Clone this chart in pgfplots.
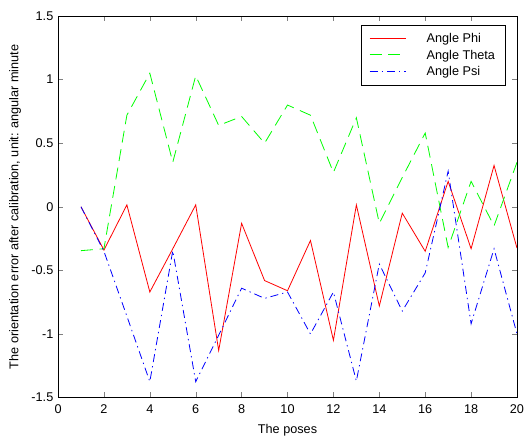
\documentclass[border=0pt]{standalone}
\usepackage{pgfplots}
\pgfplotsset{compat=1.18}
\usepackage{fontspec}
\setmainfont{Liberation Sans}
\begin{document}
\begin{tikzpicture}
\begin{axis}[
  scale only axis,
  width=344pt, height=286pt,
  xmin=0, xmax=20, ymin=-1.5, ymax=1.5,
  xtick={0,2,...,20},
  ytick={-1.5,-1,-0.5,0,0.5,1,1.5},
  yticklabels={-1.5,-1,-0.5,0,0.5,1,1.5},
  tick align=inside,
  major tick length=4pt,
  xtick pos=both, ytick pos=both,
  font=\fontsize{9.5}{11}\selectfont,
  tick label style={font=\fontsize{9.5}{11}\selectfont},
  xticklabel style={yshift=-2pt},
  /pgf/number format/assume math mode=true,
  xlabel={The poses},
  ylabel={The orientation error after calibration, unit: angular minute},
  xlabel style={yshift=-1pt},
  ylabel style={yshift=1pt},
  legend style={at={(0.976,0.976)}, anchor=north east,
    cells={anchor=west}, inner xsep=6pt, inner ysep=4pt, row sep=0pt,
    font=\fontsize{9.5}{11}\selectfont},
  legend image code/.code={\draw[#1] (0cm,0.02cm) -- (0.95cm,0.02cm);},
]
\addlegendimage{red, solid, line width=0.8pt}
\addlegendentry{\hspace{1.4em}Angle Phi}
\addlegendimage{green, dash pattern=on 9pt off 5pt, line width=0.8pt}
\addlegendentry{\hspace{1.4em}Angle Theta}
\addlegendimage{blue, dash pattern=on 6pt off 3pt on 1pt off 3pt, line width=0.8pt}
\addlegendentry{\hspace{1.4em}Angle Psi}
\addplot[forget plot, color=red, solid, line width=0.6pt] coordinates {
(1,0) (2,-0.34) (3,0.015) (4,-0.67) (5,-0.33) (6,0.015) (7,-1.13) (8,-0.13)
(9,-0.58) (10,-0.66) (11,-0.265) (12,-1.05) (13,0.015) (14,-0.78) (15,-0.05)
(16,-0.35) (17,0.2) (18,-0.33) (19,0.325) (20,-0.325)};
\addplot[forget plot, color=green, dash pattern=on 9pt off 5pt, line width=0.6pt] coordinates {
(1,-0.345) (2,-0.33) (3,0.72) (4,1.05) (5,0.35) (6,1.03) (7,0.64) (8,0.71)
(9,0.5) (10,0.8) (11,0.72) (12,0.27) (13,0.7) (14,-0.13) (15,0.23)
(16,0.58) (17,-0.32) (18,0.2) (19,-0.15) (20,0.35)};
\addplot[forget plot, color=blue, dash pattern=on 6pt off 3pt on 1pt off 3pt, line width=0.6pt] coordinates {
(1,0) (2,-0.35) (3,-0.86) (4,-1.375) (5,-0.345) (6,-1.375) (7,-1.01) (8,-0.64)
(9,-0.72) (10,-0.67) (11,-1.0) (12,-0.67) (13,-1.37) (14,-0.45) (15,-0.82)
(16,-0.52) (17,0.28) (18,-0.92) (19,-0.33) (20,-1.0)};
\end{axis}
\pgfresetboundingbox
\path[use as bounding box] ([shift={(-43.5pt,-32pt)}]current axis.south west)
  rectangle ([shift={(6pt,12pt)}]current axis.north east);
\end{tikzpicture}
\end{document}
